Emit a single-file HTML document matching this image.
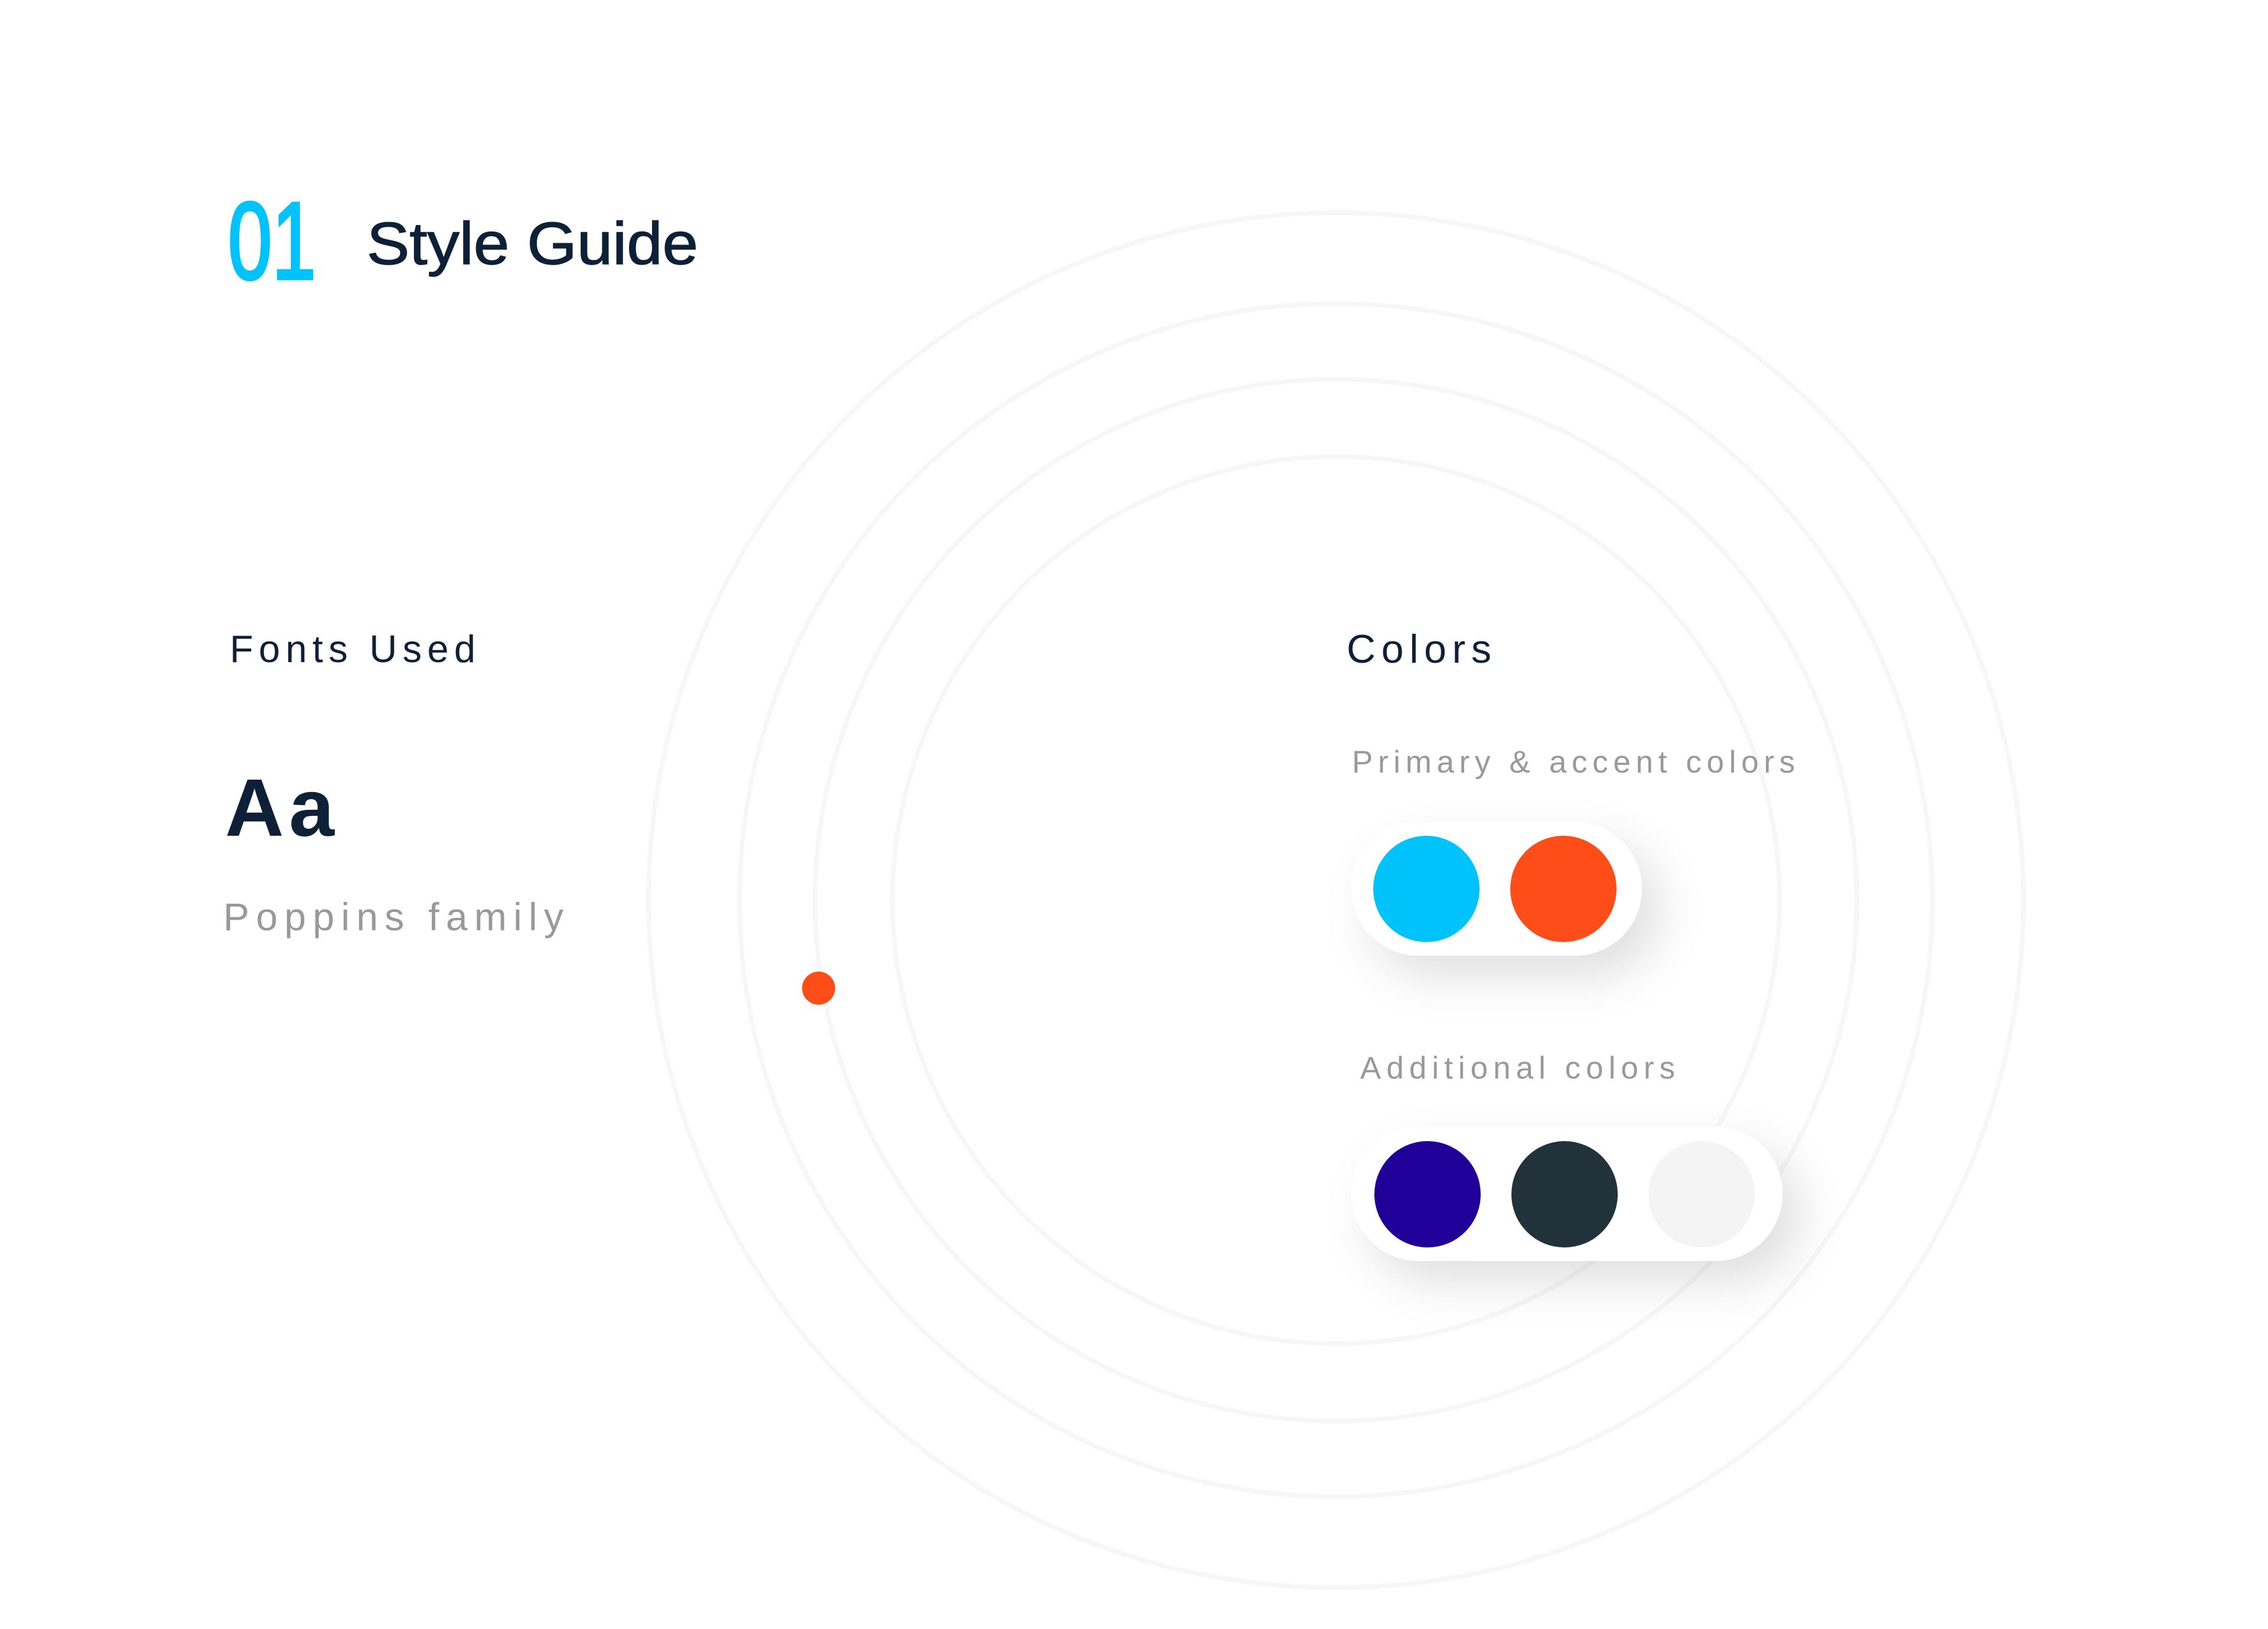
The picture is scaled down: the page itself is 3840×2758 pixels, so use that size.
<!DOCTYPE html>
<html><head><meta charset="utf-8"><style>
html,body{margin:0;padding:0;background:#fff;}
svg{display:block;}
text{font-family:"Liberation Sans",sans-serif;}
</style></head><body>
<svg width="3840" height="2758" viewBox="0 0 3840 2758" xmlns="http://www.w3.org/2000/svg">
<defs>
<filter id="sh" x="-40%" y="-60%" width="180%" height="240%">
<feDropShadow dx="30" dy="35" stdDeviation="38" flood-color="#000" flood-opacity="0.12"/>
</filter>
</defs>
<rect width="3840" height="2758" fill="#fff"/>
<g fill="none" stroke="#f7f7f7" stroke-width="8">
<circle cx="2262" cy="1524" r="1164"/>
<circle cx="2262" cy="1524" r="1010"/>
<circle cx="2262" cy="1524" r="882"/>
<circle cx="2262" cy="1524" r="751"/>
</g>
<circle cx="1386" cy="1673" r="28" fill="#ff4d19"/>

<text x="386" y="472" font-size="186" fill="#00c2fc" stroke="#00c2fc" stroke-width="5" textLength="149" lengthAdjust="spacingAndGlyphs">01</text>
<text x="621" y="447" font-size="101" fill="#0d2038" stroke="#0d2038" stroke-width="1.5" textLength="561" lengthAdjust="spacingAndGlyphs">Style Guide</text>

<text x="389" y="1121" font-size="65" fill="#0d2038" textLength="416" lengthAdjust="spacing">Fonts Used</text>
<text x="381" y="1415" font-size="138" font-weight="bold" fill="#0d2038" textLength="185" lengthAdjust="spacing">Aa</text>
<text x="378" y="1575" font-size="66" fill="#999" textLength="576" lengthAdjust="spacing">Poppins family</text>

<text x="2280" y="1122" font-size="68" fill="#0d2038" textLength="245" lengthAdjust="spacing">Colors</text>
<text x="2289" y="1308" font-size="53" fill="#999" textLength="750" lengthAdjust="spacing">Primary &amp; accent colors</text>
<text x="2303" y="1826" font-size="53" fill="#999" textLength="533" lengthAdjust="spacing">Additional colors</text>

<rect x="2288" y="1392" width="492" height="226" rx="113" fill="#fff" filter="url(#sh)"/>
<circle cx="2415" cy="1505" r="90" fill="#00c3fc"/>
<circle cx="2647" cy="1505" r="90" fill="#ff4d1a"/>

<rect x="2288" y="1907" width="730" height="228" rx="114" fill="#fff" filter="url(#sh)"/>
<circle cx="2417" cy="2022" r="90" fill="#210099"/>
<circle cx="2649" cy="2022" r="90" fill="#21323b"/>
<circle cx="2881" cy="2022" r="90" fill="#f4f4f4"/>
</svg>
</body></html>
